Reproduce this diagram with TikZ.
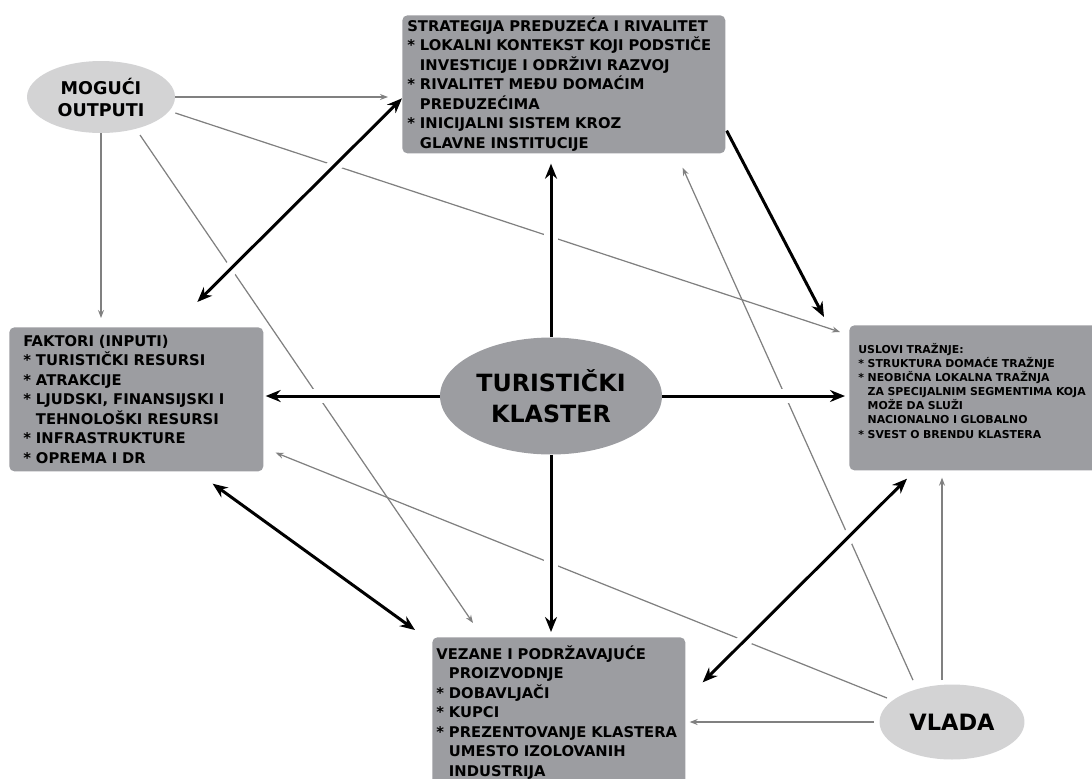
\documentclass[tikz,border=0pt]{standalone}
\usepackage{fontspec}
\setmainfont{DejaVu Sans}
\usetikzlibrary{shapes.geometric,arrows.meta,backgrounds}
\definecolor{boxgray}{RGB}{156,157,161}
\definecolor{ovalgray}{RGB}{211,211,212}
\definecolor{linegray}{RGB}{128,128,128}
\newcommand{\bul}{{*}~}
\newcommand{\ind}{\hphantom{\bul}}

\begin{document}
\begin{tikzpicture}[x=0.02cm,y=-0.02cm,
 b/.style={fill=boxgray,rounded corners=1mm,anchor=north west,align=left,inner ysep=0pt,font=\bfseries\fontsize{8.4}{11.1}\selectfont},
 ov/.style={ellipse,fill=ovalgray,inner sep=0pt,align=center},
 thk/.style={line width=1.7pt,preaction={draw=white,line width=8pt,-}},
 thn/.style={draw=linegray,line width=0.7pt,-{Stealth[length=1.6mm,width=1.2mm]}},
 >={Stealth[length=3mm,width=2.4mm]}]
\useasboundingbox (0,0) rectangle (1092,778);
\clip (0,0) rectangle (1092,778);

\node[b,minimum width=64.6mm,minimum height=27.6mm,text width=62.6mm,inner xsep=1mm](strat) at (402,15){STRATEGIJA PREDUZEĆA I RIVALITET\\
\bul LOKALNI KONTEKST KOJI PODSTIČE\\ \ind INVESTICIJE I ODRŽIVI RAZVOJ\\
\bul RIVALITET MEĐU DOMAĆIM\\ \ind PREDUZEĆIMA\\
\bul INICIJALNI SISTEM KROZ\\ \ind GLAVNE INSTITUCIJE};
\node[b,minimum width=50.8mm,minimum height=28.8mm,text width=45.2mm,inner xsep=2.8mm](faktori) at (9,327){FAKTORI (INPUTI)\\
\bul TURISTIČKI RESURSI\\ \bul ATRAKCIJE\\
\bul LJUDSKI, FINANSIJSKI I\\ \ind TEHNOLOŠKI RESURSI\\
\bul INFRASTRUKTURE\\ \bul OPREMA I DR};
\node[b,minimum width=52mm,minimum height=29mm,text width=48.4mm,inner xsep=1.8mm,font=\bfseries\fontsize{6.2}{8}\selectfont](uslovi) at (849,325){USLOVI TRAŽNJE:\\
\bul STRUKTURA DOMAĆE TRAŽNJE\\ \bul NEOBIČNA LOKALNA TRAŽNJA\\
\ind ZA SPECIJALNIM SEGMENTIMA KOJA\\ \ind MOŽE DA SLUŽI\\
\ind NACIONALNO I GLOBALNO\\ \bul SVEST O BRENDU KLASTERA\\ ~};
\node[b,minimum width=50.6mm,minimum height=30mm,text width=49mm,inner xsep=0.8mm](vezane) at (432,637){VEZANE I PODRŽAVAJUĆE\\
\ind PROIZVODNJE\\ \bul DOBAVLJAČI\\ \bul KUPCI\\
\bul PREZENTOVANJE KLASTERA\\ \ind UMESTO IZOLOVANIH\\ \ind INDUSTRIJA};
\node[ov,minimum width=29.6mm,minimum height=14.4mm,font=\bfseries\fontsize{10}{12.5}\selectfont](outputi) at (101,97){MOGUĆI\\OUTPUTI};
\node[ov,fill=boxgray,minimum width=44.4mm,minimum height=23.4mm,font=\bfseries\fontsize{13.5}{18}\selectfont](klaster) at (551,396){TURISTIČKI\\KLASTER};
\node[ov,minimum width=29mm,minimum height=15mm,font=\bfseries\fontsize{12.8}{15}\selectfont](vlada) at (952,722){VLADA};

\begin{scope}[on background layer]
% thin links
\draw[thn,shorten >=2.8mm](outputi.east)--(outputi.east -| strat.west);
\draw[thn,shorten >=1.8mm](outputi.south)--(outputi.south |- faktori.north);
\draw[thn]([shift={(0,16)}]outputi.east)--([shift={(-9,7)}]uslovi.north west);
\draw[thn]([shift={(39,38)}]outputi.center)--([shift={(41,-14)}]vezane.north west);
\draw[thn]([shift={(-65,-24)}]vlada.center)--([shift={(12,-19)}]faktori.south east);
\draw[thn]([shift={(-39,-4)}]vlada.north)--([shift={(-43,14)}]strat.south east);
\draw[thn]([shift={(-10,-4)}]vlada.north)--([shift={(93,7)}]uslovi.south west);
\draw[thn,shorten <=1mm,shorten >=0.8mm](vlada.west)--(vlada.west -| vezane.east);
% thick links
\draw[thk,<->]([shift={(61,-25)}]faktori.north)--([shift={(0,14)}]strat.west);
\draw[thk,->]([shift={(1,-23)}]strat.south east)--([shift={(-25,-8)}]uslovi.north west);
\draw[thk,->,shorten >=2mm](klaster.north)--(klaster.north |- strat.south);
\draw[thk,->,shorten >=0.4mm](klaster.west)--(klaster.west -| faktori.east);
\draw[thk,->,shorten >=0.8mm](klaster.east)--(klaster.east -| uslovi.west);
\draw[thk,->,shorten >=1mm](klaster.south)--(klaster.south |- vezane.north);
\draw[thk,<->]([shift={(-51,12)}]faktori.south east)--([shift={(-17,-7)}]vezane.north west);
\draw[thk,<->]([shift={(58,8)}]uslovi.south west)--([shift={(17,-30)}]vezane.east);
\end{scope}
\end{tikzpicture}
\end{document}
